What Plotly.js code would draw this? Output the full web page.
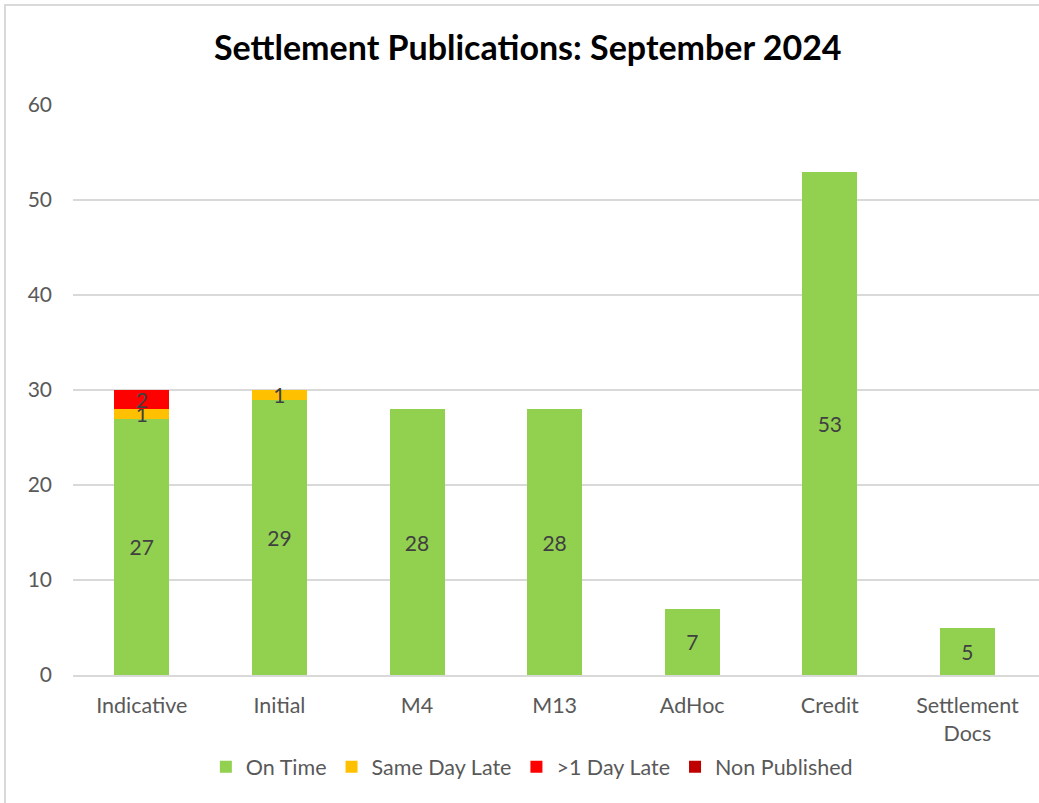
<!DOCTYPE html>
<html>
<head>
<meta charset="utf-8">
<script src="https://cdn.plot.ly/plotly-3.0.1.min.js"></script>
<style>
  html, body { margin: 0; padding: 0; background: #fff; }
  #wrap { position: relative; width: 1039px; height: 803px; overflow: hidden; }
  #chart { position: absolute; left: 0; top: 0; width: 1039px; height: 803px; }
  #frame { position: absolute; left: 4px; top: 4px; width: 1100px; height: 900px; border: 2px solid #d9d9d9; pointer-events: none; }
</style>
</head>
<body>
<div id="wrap">
  <div id="chart"></div>
  <div id="frame"></div>
</div>
<script>
const categories = ["Indicative", "Initial", "M4", "M13", "AdHoc", "Credit", "Settlement<br>Docs"];
const onTime = [27, 29, 28, 28, 7, 53, 5];
const sameDayLate = [1, 1, 0, 0, 0, 0, 0];
const overOneDayLate = [2, 0, 0, 0, 0, 0, 0];
const nonPublished = [0, 0, 0, 0, 0, 0, 0];
const yTicks = [0, 10, 20, 30, 40, 50, 60];

const seriesDefs = [
  { name: "On Time", values: onTime, color: "#92D050" },
  { name: "Same Day Late", values: sameDayLate, color: "#FFC000" },
  { name: ">1 Day Late", values: overOneDayLate, color: "#FF0000" },
  { name: "Non Published", values: nonPublished, color: "#C00000" }
];

const font = "Lato, 'Open Sans', sans-serif";

const traces = seriesDefs.map(s => ({
  type: "bar",
  name: s.name,
  x: categories,
  y: s.values,
  marker: { color: s.color },
  text: s.values.map(v => v > 0 ? String(v) : ""),
  textposition: "inside",
  insidetextanchor: "middle",
  textangle: 0,
  constraintext: "none",
  cliponaxis: false,
  textfont: { family: font, size: 21, color: "#404040" },
  hoverinfo: "x+y+name"
}));

const layout = {
  width: 1039,
  height: 803,
  barmode: "stack",
  bargap: 0.6,
  paper_bgcolor: "#ffffff",
  plot_bgcolor: "#ffffff",
  margin: { l: 73, r: 0, t: 105, b: 128 },
  font: { family: font, color: "#595959", size: 21 },
  title: {
    text: "<b>Settlement Publications: September 2024</b>",
    font: { family: font, size: 34, color: "#000000" },
    x: 0.508, xanchor: "center",
    y: 0.94, yanchor: "middle"
  },
  xaxis: {
    type: "category",
    range: [-0.5, 6.52],
    showgrid: false,
    showline: true,
    linecolor: "#d9d9d9",
    linewidth: 1.5,
    ticks: "",
    tickfont: { family: font, size: 21.5, color: "#595959" },
    ticklabelstandoff: 10,
    fixedrange: true
  },
  yaxis: {
    range: [0, 60],
    tickvals: yTicks,
    ticktext: yTicks.map(String),
    showgrid: true,
    gridcolor: "#d9d9d9",
    gridwidth: 1.5,
    zeroline: false,
    showline: false,
    ticks: "",
    ticklabelstandoff: 20,
    tickfont: { family: font, size: 21, color: "#595959" },
    fixedrange: true
  },
  showlegend: true,
  legend: {
    orientation: "h",
    x: 0.475, xanchor: "center",
    y: -0.161, yanchor: "middle",
    font: { family: font, size: 21.5, color: "#595959" },
    traceorder: "normal",
    itemclick: false,
    itemdoubleclick: false
  }
};

Plotly.newPlot("chart", traces, layout, { displayModeBar: false, staticPlot: false });
</script>
</body>
</html>
